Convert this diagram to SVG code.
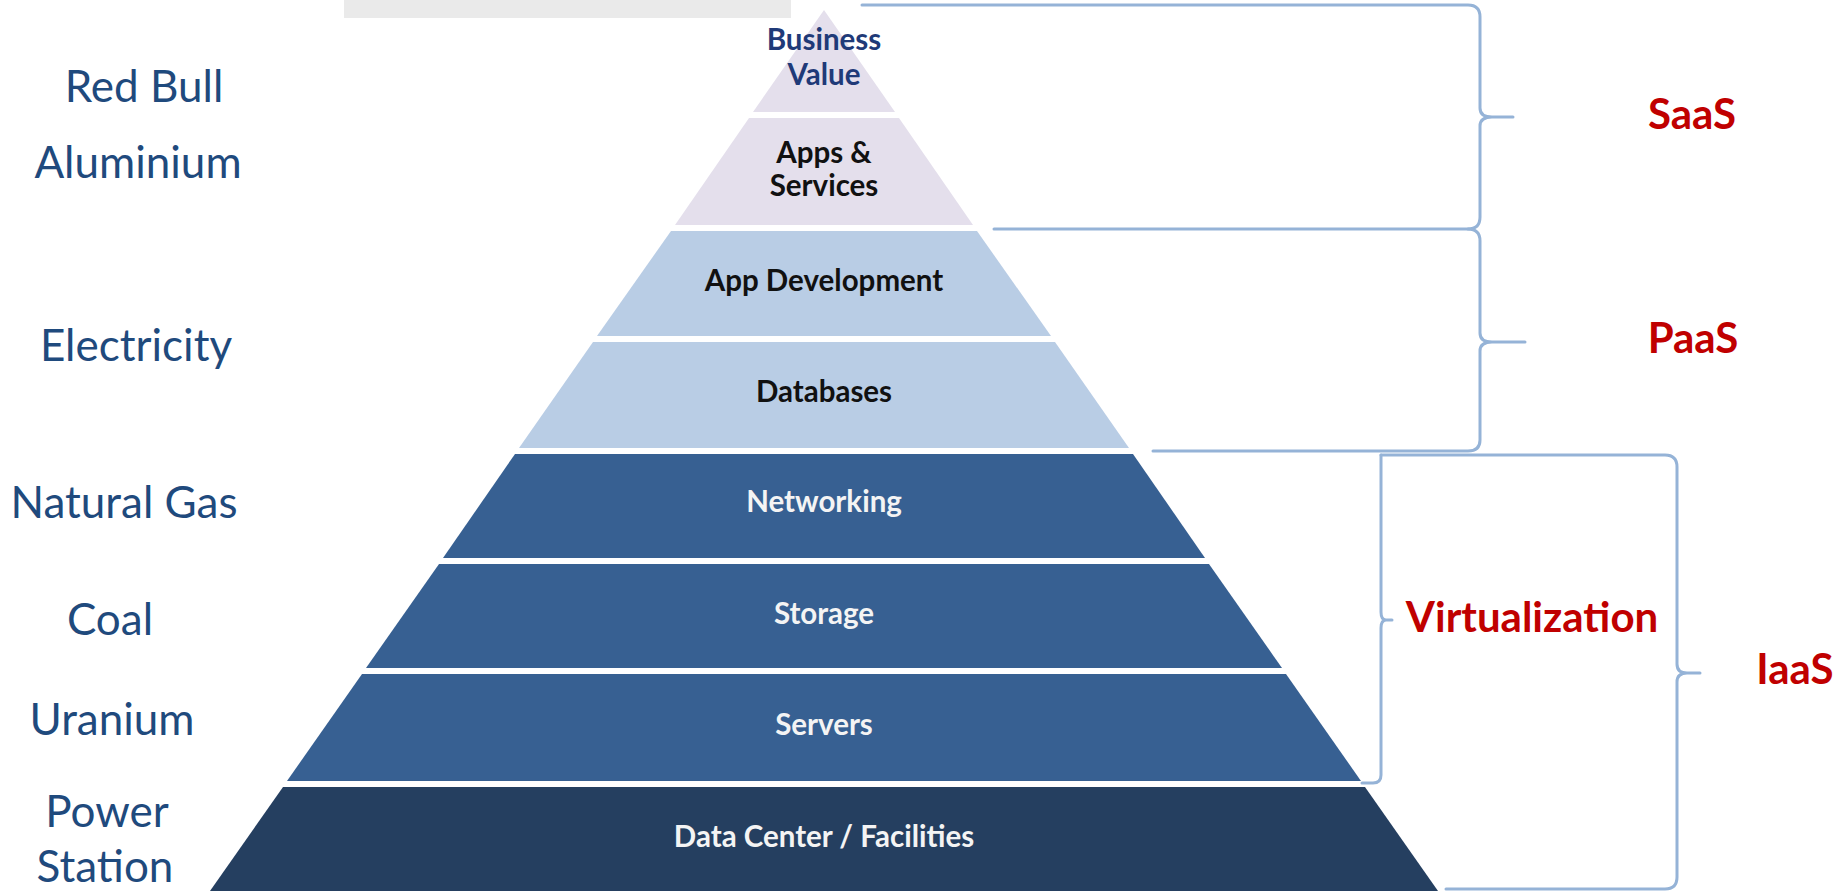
<svg xmlns="http://www.w3.org/2000/svg" width="1845" height="892" viewBox="0 0 1845 892">
<style>
.band-lav{fill:#e4dfec}
.band-light{fill:#b9cde5}
.band-mid{fill:#376092}
.band-dark{fill:#253f60}
.lbl{font-family:Lato,"Open Sans","Liberation Sans",sans-serif;font-weight:700;font-size:29.5px;text-anchor:middle}
.dark{fill:#111111}
.navy{fill:#1f3a78}
.white{fill:#f4f4f4}
.side{font-family:Lato,"Open Sans","Liberation Sans",sans-serif;font-size:44px;fill:#1f4a7d;text-anchor:middle}
.red{font-family:Lato,"Open Sans","Liberation Sans",sans-serif;font-weight:700;font-size:42px;fill:#c00000;text-anchor:middle}
.brace{fill:none;stroke:#95b3d7;stroke-width:3;stroke-linecap:round;stroke-linejoin:round}
</style>
<rect x="0" y="0" width="1845" height="892" fill="#ffffff"/>
<rect x="344" y="0" width="447" height="18" fill="#eaeaea"/>

<g id="business-value">
<polygon class="band-lav" points="824,10 824,10 895,112 753,112"/>
<text class="lbl navy" x="824" y="50">Business</text>
<text class="lbl navy" x="824" y="85">Value</text>
</g>
<g id="apps-services">
<polygon class="band-lav" points="749,118 899,118 973,225 675,225"/>
<text class="lbl dark" x="824" y="163">Apps &amp;</text>
<text class="lbl dark" x="824" y="196">Services</text>
</g>
<g id="app-development">
<polygon class="band-light" points="671,231 977,231 1051,336 597,336"/>
<text class="lbl dark" x="824" y="291">App Development</text>
</g>
<g id="databases">
<polygon class="band-light" points="593,342 1055,342 1129,448 519,448"/>
<text class="lbl dark" x="824" y="402">Databases</text>
</g>
<g id="networking">
<polygon class="band-mid" points="515,454 1133,454 1205,558 443,558"/>
<text class="lbl white" x="824" y="512">Networking</text>
</g>
<g id="storage">
<polygon class="band-mid" points="439,564 1209,564 1282,668 366,668"/>
<text class="lbl white" x="824" y="624">Storage</text>
</g>
<g id="servers">
<polygon class="band-mid" points="362,674 1286,674 1361,781 287,781"/>
<text class="lbl white" x="824" y="735">Servers</text>
</g>
<g id="data-center">
<polygon class="band-dark" points="283,787 1365,787 1438,891 210,891"/>
<text class="lbl white" x="824" y="847">Data Center / Facilities</text>
</g>

<g id="left-labels">
<text class="side" x="144" y="102">Red Bull</text>
<text class="side" x="138" y="178">Aluminium</text>
<text class="side" x="136" y="361">Electricity</text>
<text class="side" x="124" y="518">Natural Gas</text>
<text class="side" x="110" y="635">Coal</text>
<text class="side" x="112" y="735">Uranium</text>
<text class="side" x="107" y="827">Power</text>
<text class="side" x="105" y="882">Station</text>
</g>

<g id="connectors">
<path class="brace" d="M862 5 H1468 Q1480 5 1480 17 V108 Q1480 117 1492 117 H1513 M1492 117 Q1480 117 1480 126 V217 Q1480 229 1468 229 H994"/>
<path class="brace" d="M1468 229 Q1480 229 1480 241 V333 Q1480 342 1492 342 H1525 M1492 342 Q1480 342 1480 351 V440 Q1480 451 1468 451 H1153"/>
<path class="brace" d="M1381 455 H1665 Q1677 455 1677 467 V664 Q1677 673 1687 673 H1700 M1687 673 Q1677 673 1677 682 V877 Q1677 889 1665 889 H1446"/>
<path class="brace" d="M1381 455 V612 Q1381 620 1386 620 H1392 M1386 620 Q1381 620 1381 628 V775 Q1381 783 1373 783 H1362"/>
</g>

<g id="tier-labels">
<text class="red" x="1692" y="129">SaaS</text>
<text class="red" x="1693" y="353">PaaS</text>
<text class="red" x="1532" y="632">Virtualization</text>
<text class="red" x="1795" y="684">IaaS</text>
</g>
</svg>
